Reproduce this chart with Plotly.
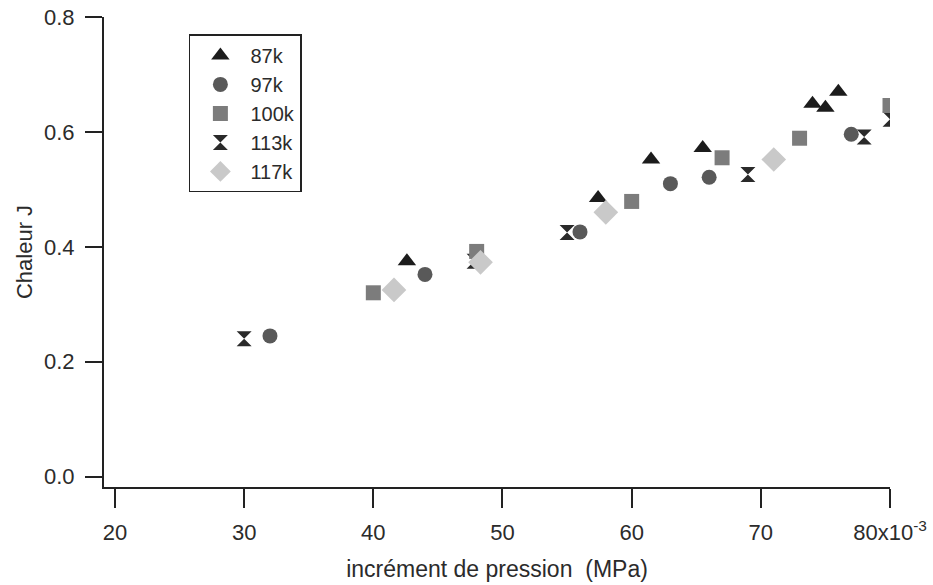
import plotly.graph_objects as go

# data
x_87k = [42.6, 57.4, 61.5, 65.5, 74.0, 75.0, 76.0]
y_87k = [0.375, 0.485, 0.552, 0.572, 0.649, 0.642, 0.670]
x_97k = [32.0, 44.0, 56.0, 63.0, 66.0, 77.0]
y_97k = [0.245, 0.352, 0.426, 0.510, 0.521, 0.596]
x_100k = [40.0, 48.0, 60.0, 67.0, 73.0, 80.0]
y_100k = [0.320, 0.392, 0.479, 0.555, 0.589, 0.646]
x_113k = [30.0, 47.8, 55.0, 69.0, 78.0, 80.0]
y_113k = [0.240, 0.375, 0.425, 0.526, 0.591, 0.622]
x_117k = [41.6, 48.3, 58.0, 71.0]
y_117k = [0.325, 0.373, 0.460, 0.552]

x_tickvals = [20, 30, 40, 50, 60, 70, 80]
x_ticktext = ["20", "30", "40", "50", "60", "70", "80x10<sup>-3</sup>"]
y_tickvals = [0.0, 0.2, 0.4, 0.6, 0.8]
y_ticktext = ["0.0", "0.2", "0.4", "0.6", "0.8"]

FONT = "Liberation Sans, Arial, sans-serif"
TXT = "#2b2b2b"

series = [
    ("113k", x_113k, y_113k, "hourglass", "#2a2a2a", 15, 4),
    ("87k", x_87k, y_87k, "triangle-up", "#1c1c1c", 16, 1),
    ("97k", x_97k, y_97k, "circle", "#595959", 15, 2),
    ("100k", x_100k, y_100k, "square", "#7c7c7c", 15, 3),
    ("117k", x_117k, y_117k, "diamond", "#c9c9c9", 19, 5),
]

fig = go.Figure()
for name, xs, ys, sym, col, sz, rank in series:
    fig.add_trace(go.Scatter(
        x=xs, y=ys, mode="markers", name=name, legendrank=rank,
        marker=dict(symbol=sym, color=col, size=sz, line=dict(width=0)),
    ))

fig.update_layout(
    width=933, height=585,
    margin=dict(l=104, r=43, t=17, b=98),
    paper_bgcolor="white", plot_bgcolor="white",
    font=dict(family=FONT, size=22, color=TXT),
    showlegend=True,
    legend=dict(
        x=0.108, y=0.963, xanchor="left", yanchor="top",
        bgcolor="white", bordercolor="#222", borderwidth=1.5,
        font=dict(family=FONT, size=20, color=TXT),
        tracegroupgap=0, itemwidth=50,
    ),
    xaxis=dict(
        range=[19.15, 80], showgrid=False, zeroline=False, automargin=False,
        showline=True, linecolor="#222", linewidth=2,
        ticks="outside", ticklen=19, tickwidth=1.5, tickcolor="#222",
        tickvals=x_tickvals, ticktext=x_ticktext,
        ticklabelstandoff=6,
        title=dict(text="incrément de pression  (MPa)", standoff=16,
                   font=dict(family=FONT, size=23, color=TXT)),
    ),
    yaxis=dict(
        range=[-0.018, 0.8], showgrid=False, zeroline=False, automargin=False,
        showline=True, linecolor="#222", linewidth=2,
        ticks="outside", ticklen=17, tickwidth=1.5, tickcolor="#222",
        tickvals=y_tickvals, ticktext=y_ticktext,
        ticklabelstandoff=6,
        title=dict(text="Chaleur J", standoff=5,
                   font=dict(family=FONT, size=22, color=TXT)),
    ),
)

fig.write_html("out.html")
